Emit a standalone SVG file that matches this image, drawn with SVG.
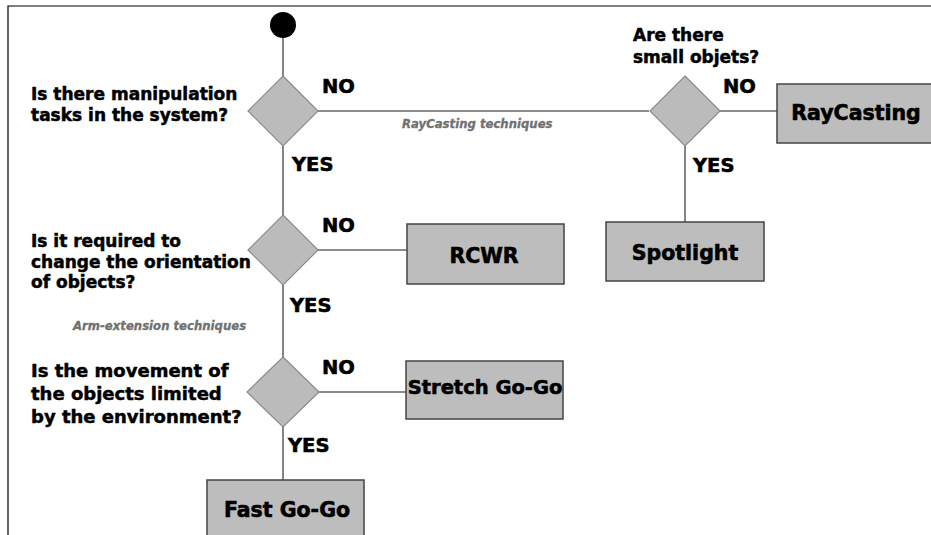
<svg xmlns="http://www.w3.org/2000/svg" width="931" height="535" viewBox="0 0 931 535">
<style>
.q{font-family:"DejaVu Sans",sans-serif;font-weight:bold;font-size:17px;fill:#000;stroke:#000;stroke-width:0.5}
.lbl{font-family:"DejaVu Sans",sans-serif;font-weight:bold;font-size:19.5px;fill:#000;stroke:#000;stroke-width:0.6}
.bt{font-family:"DejaVu Sans",sans-serif;font-weight:bold;font-size:20.5px;fill:#000;text-anchor:middle;stroke:#000;stroke-width:0.6}
.it{font-family:"DejaVu Sans",sans-serif;font-weight:bold;font-style:italic;font-size:11.7px;fill:#707070;stroke:#707070;stroke-width:0.3}
.dia{fill:#bbbbbb;stroke:#8a8a8a;stroke-width:1.2}
.box{fill:#bdbdbd;stroke:#444;stroke-width:1.5}
.con{stroke:#666;stroke-width:1.6;fill:none}
</style>
<rect width="931" height="535" fill="#fff"/>
<path d="M8 535 V6 H931" fill="none" stroke="#000" stroke-width="1.2"/>
<g id="connectors">
<line class="con" x1="283" y1="36" x2="283" y2="76"/>
<line class="con" x1="318" y1="111" x2="649" y2="111"/>
<line class="con" x1="720" y1="111" x2="777" y2="111"/>
<line class="con" x1="685" y1="146" x2="685" y2="222"/>
<line class="con" x1="283" y1="146" x2="283" y2="215"/>
<line class="con" x1="318" y1="250" x2="407" y2="250"/>
<line class="con" x1="283" y1="285" x2="283" y2="357"/>
<line class="con" x1="319" y1="392" x2="406" y2="392"/>
<line class="con" x1="283" y1="427" x2="283" y2="480"/>
</g>
<g id="start"><circle cx="283" cy="25" r="13" fill="#000"/></g>
<g id="d1">
<polygon class="dia" points="283,76 318,111 283,146 248,111"/>
<text class="q" x="31" y="100">Is there manipulation</text>
<text class="q" x="31" y="121">tasks in the system?</text>
<text class="lbl" x="322" y="93">NO</text>
<text class="lbl" x="292" y="171">YES</text>
</g>
<g id="d2">
<polygon class="dia" points="685,76 720,111 685,146 650,111"/>
<text class="q" x="633" y="41">Are there</text>
<text class="q" x="633" y="63">small objets?</text>
<text class="lbl" x="723" y="93">NO</text>
<text class="lbl" x="693" y="172">YES</text>
</g>
<g id="d3">
<polygon class="dia" points="283,215 318,250 283,285 248,250"/>
<text class="q" x="31" y="247">Is it required to</text>
<text class="q" x="31" y="268">change the orientation</text>
<text class="q" x="31" y="288">of objects?</text>
<text class="lbl" x="322" y="232">NO</text>
<text class="lbl" x="290" y="312">YES</text>
</g>
<g id="d4">
<polygon class="dia" points="283,357 319,392 283,427 247,392"/>
<text class="q" x="31" y="377" style="font-size:18px">Is the movement of</text>
<text class="q" x="31" y="400" style="font-size:18px">the objects limited</text>
<text class="q" x="31" y="423" style="font-size:18px">by the environment?</text>
<text class="lbl" x="322" y="374">NO</text>
<text class="lbl" x="288" y="452">YES</text>
</g>
<g id="raycasting"><rect class="box" x="777" y="84" width="156" height="59"/><text class="bt" x="856" y="120">RayCasting</text></g>
<g id="spotlight"><rect class="box" x="606" y="222" width="158" height="59"/><text class="bt" x="685" y="260">Spotlight</text></g>
<g id="rcwr"><rect class="box" x="407" y="224" width="157" height="60"/><text class="bt" x="484" y="263">RCWR</text></g>
<g id="stretch"><rect class="box" x="406" y="361" width="157" height="58"/><text class="bt" x="485" y="394" style="font-size:19.5px">Stretch Go-Go</text></g>
<g id="fast"><rect class="box" x="207" y="480" width="157" height="62"/><text class="bt" x="287" y="517">Fast Go-Go</text></g>
<g id="annotations">
<text class="it" x="402" y="128">RayCasting techniques</text>
<text class="it" x="73" y="330">Arm-extension techniques</text>
</g>
</svg>
